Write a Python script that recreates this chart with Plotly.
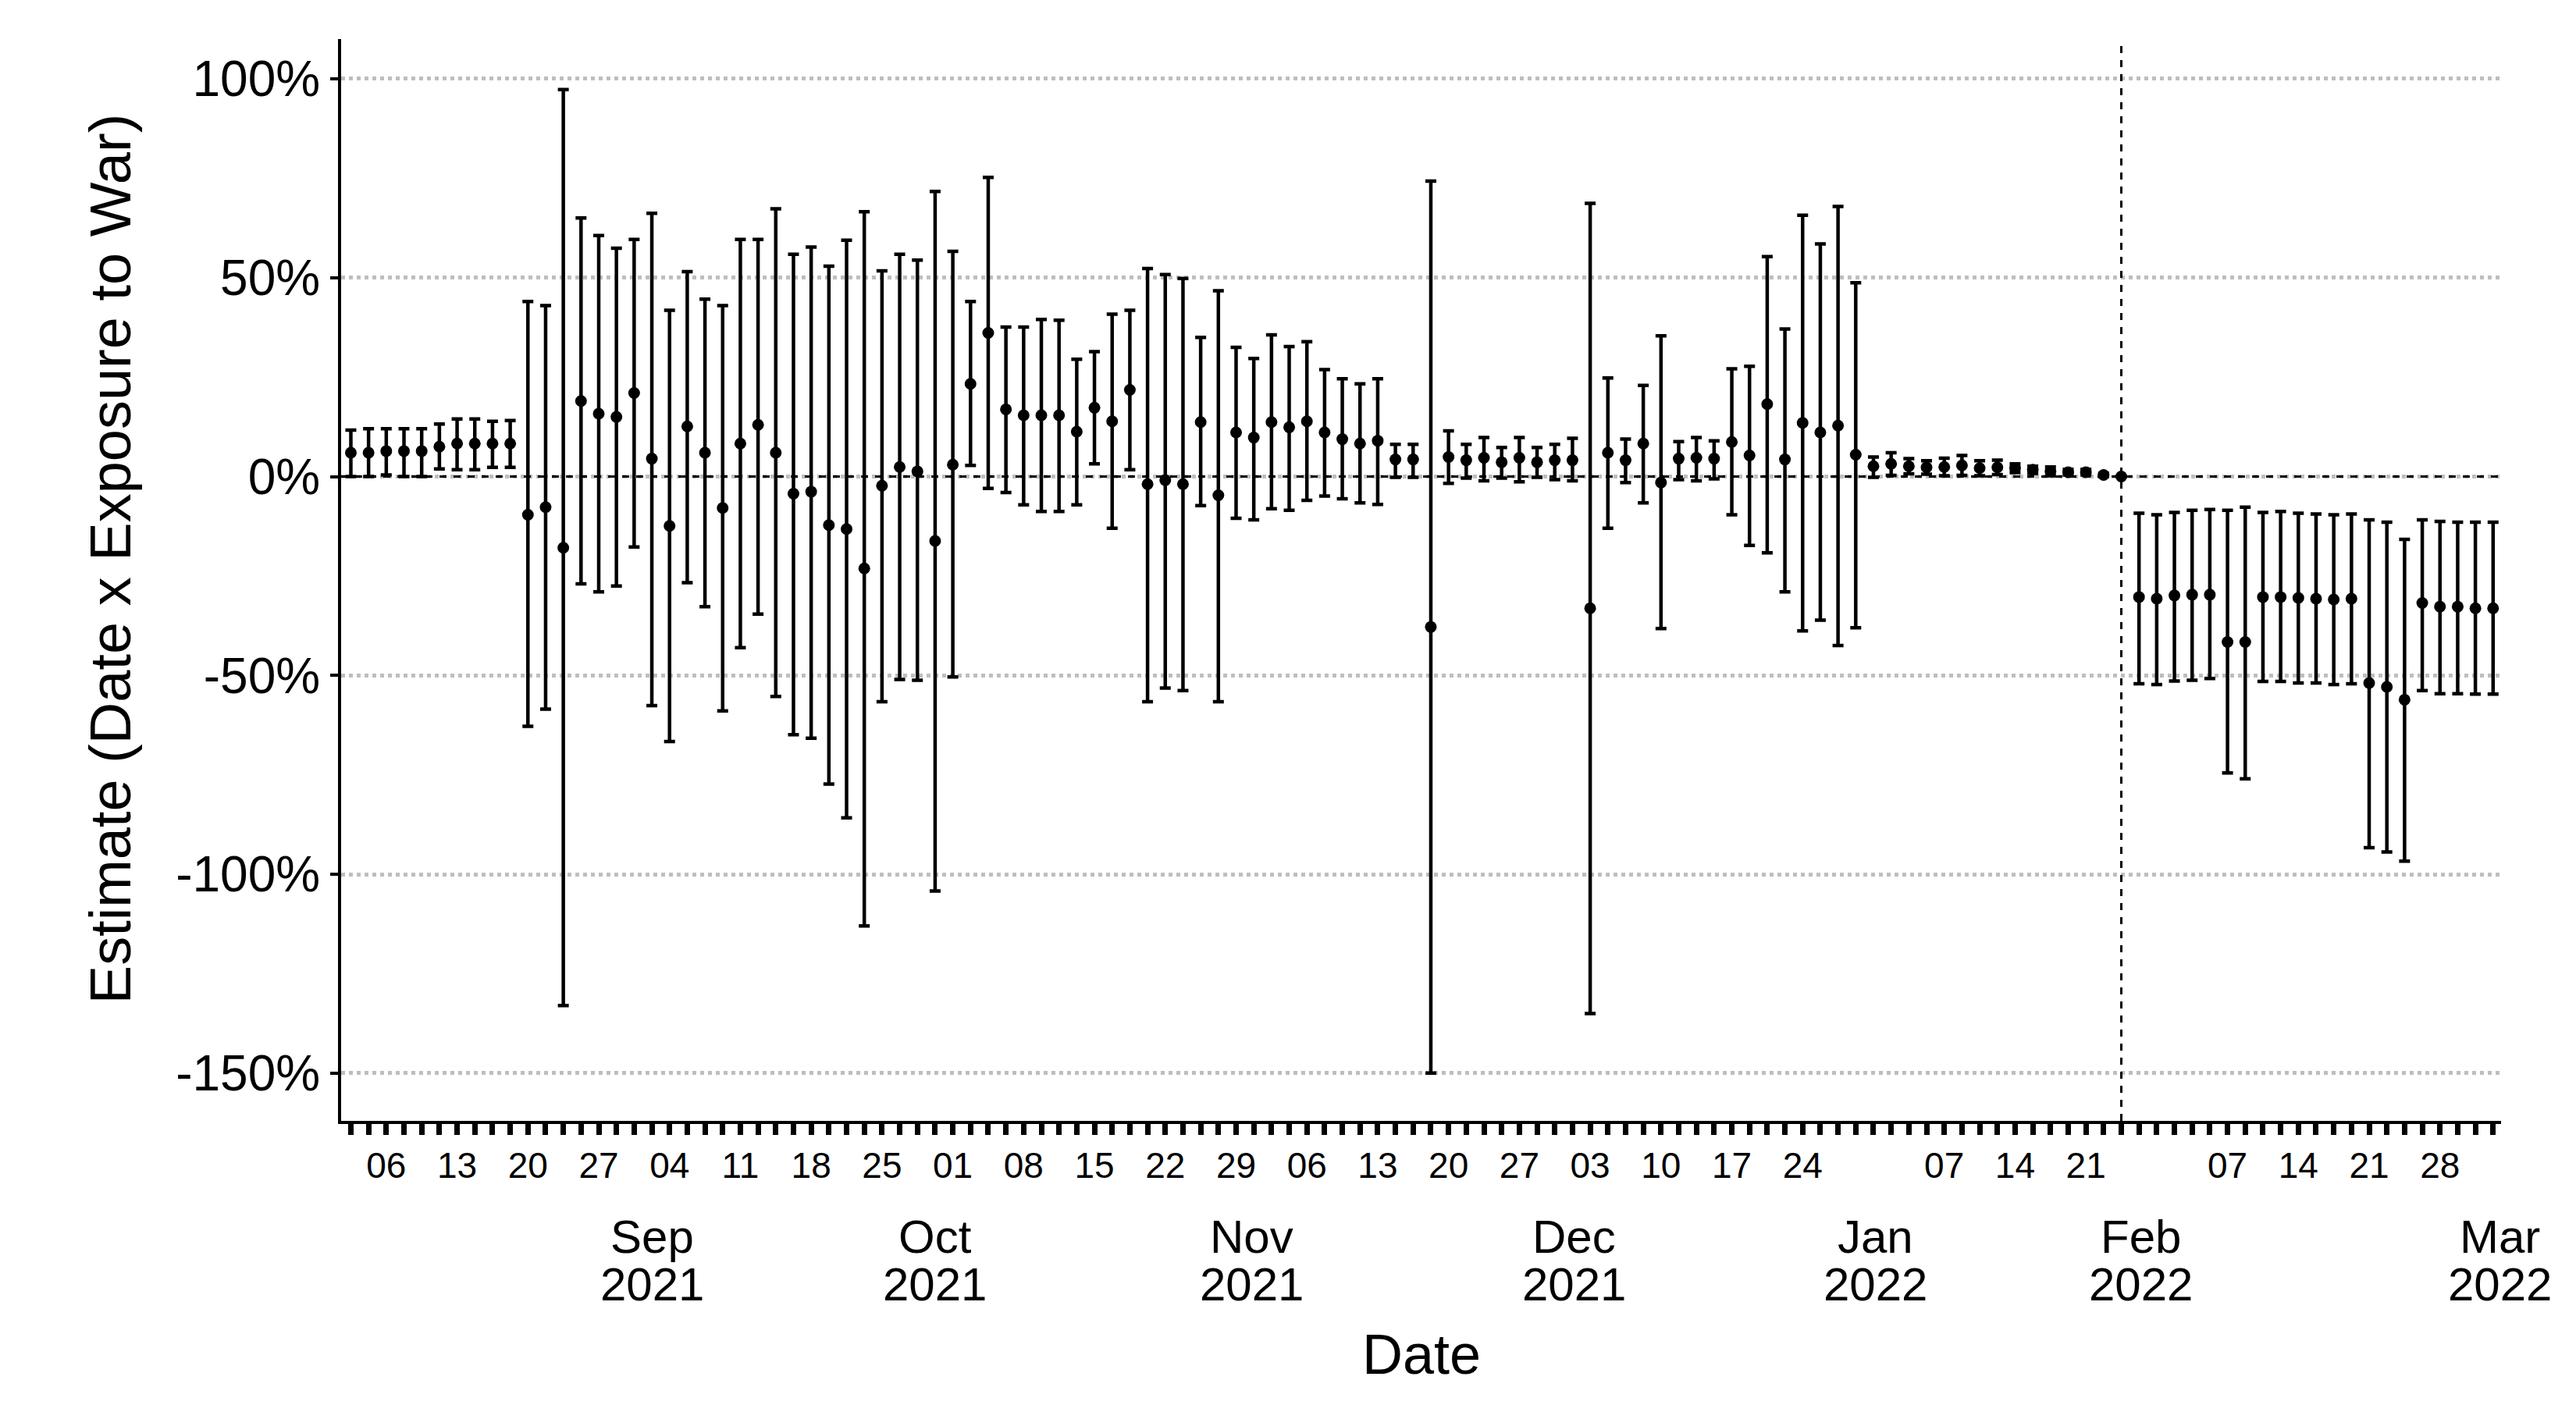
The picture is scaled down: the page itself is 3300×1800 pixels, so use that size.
import plotly.graph_objects as go

# estimates (in %) with 95% CI, one per survey date (index on a discrete axis)
est = [6.0, 6.0, 6.4, 6.4, 6.4, 7.5, 8.3, 8.3, 8.3, 8.3,
       -9.6, -7.7, -17.9, 19.0, 15.8, 15.0, 21.0, 4.5, -12.4, 12.6,
       6.0, -7.9, 8.3, 13.0, 6.0, -4.3, -3.8, -12.2, -13.2, -23.1,
       -2.3, 2.4, 1.3, -16.2, 3.0, 23.3, 36.1, 16.9, 15.4, 15.4,
       15.4, 11.3, 17.3, 13.9, 21.8, -1.9, -0.9, -1.9, 13.7, -4.7,
       11.1, 9.8, 13.7, 12.4, 13.9, 11.1, 9.4, 8.3, 9.0, 4.3,
       4.3, -37.8, 4.9, 4.1, 4.7, 3.6, 4.7, 3.6, 4.1, 4.1,
       -33.1, 6.0, 4.1, 8.3, -1.5, 4.5, 4.7, 4.5, 8.7, 5.3,
       18.2, 4.3, 13.5, 11.1, 12.8, 5.5, 2.6, 3.2, 2.6, 2.3,
       2.4, 2.8, 2.1, 2.3, 2.1, 1.7, 1.3, 1.1, 1.1, 0.4,
       0.0, -30.3, -30.7, -29.9, -29.7, -29.7, -41.6, -41.6, -30.3, -30.3,
       -30.5, -30.7, -30.9, -30.7, -51.9, -52.9, -56.1, -31.8, -32.7, -32.7,
       -33.1, -33.1]
upper = [11.7, 12.0, 12.0, 12.0, 12.0, 13.2, 14.5, 14.5, 13.9, 14.1,
         44.0, 43.0, 97.3, 65.0, 60.6, 57.4, 59.6, 66.2, 41.8, 51.5,
         44.6, 43.0, 59.6, 59.6, 67.3, 55.9, 57.7, 52.9, 59.4, 66.6,
         51.7, 55.9, 54.4, 71.7, 56.6, 44.0, 75.2, 37.6, 37.6, 39.5,
         39.3, 29.5, 31.4, 40.8, 41.8, 52.3, 50.8, 49.8, 35.0, 46.7,
         32.5, 29.7, 35.6, 32.7, 33.9, 26.9, 24.6, 23.3, 24.6, 8.1,
         8.1, 74.3, 11.5, 8.1, 9.8, 7.3, 9.8, 7.3, 8.1, 9.6,
         68.7, 24.8, 9.4, 22.9, 35.4, 8.8, 9.8, 9.0, 27.1, 27.7,
         55.3, 37.1, 65.7, 58.5, 67.9, 48.7, 4.9, 6.0, 4.5, 4.0,
         4.6, 5.3, 4.0, 4.1, 3.2, 2.6, 2.4, 1.8, 1.8, 0.8,
         0.0, -9.2, -9.6, -9.0, -8.5, -8.3, -8.5, -7.7, -9.0, -8.8,
         -9.2, -9.4, -9.6, -9.4, -10.9, -11.5, -15.8, -10.9, -11.3, -11.5,
         -11.5, -11.5]
lower = [0.0, 0.0, 0.4, 0.0, 0.0, 1.9, 1.7, 1.7, 2.3, 2.3,
         -62.8, -58.5, -133.0, -27.0, -29.0, -27.5, -17.7, -57.6, -66.6, -26.7,
         -32.7, -58.9, -43.0, -34.6, -55.3, -64.9, -65.8, -77.3, -85.8, -113.0,
         -56.6, -51.0, -51.2, -104.2, -50.4, 2.8, -3.0, -4.0, -7.1, -8.8,
         -8.8, -7.1, 3.2, -13.0, 1.7, -56.6, -53.2, -53.8, -7.3, -56.6,
         -10.5, -10.9, -8.1, -8.5, -6.0, -4.9, -5.6, -6.6, -7.0, -0.2,
         -0.2, -150.0, -1.7, -0.4, -1.1, -0.4, -1.3, -0.2, -0.8, -1.1,
         -135.0, -13.0, -1.5, -6.6, -38.2, -0.8, -1.1, -0.6, -9.6, -17.3,
         -19.2, -29.0, -38.8, -36.1, -42.5, -38.0, -0.2, 0.3, 0.7, 0.6,
         0.2, 0.3, 0.2, 0.5, 1.0, 0.8, 0.2, 0.4, 0.4, 0.0,
         0.0, -52.1, -52.3, -51.4, -51.2, -50.8, -74.5, -76.0, -51.5, -51.5,
         -51.9, -51.9, -52.3, -52.1, -93.3, -94.4, -96.7, -53.8, -54.6, -54.6,
         -54.7, -54.7]

day_tick_idx = [2, 6, 10, 14, 18, 22, 26, 30, 34, 38, 42, 46, 50, 54, 58, 62, 66, 70,
                74, 78, 82, 90, 94, 98, 106, 110, 114, 118]
day_tick_text = ["06", "13", "20", "27", "04", "11", "18", "25", "01", "08", "15", "22",
                 "29", "06", "13", "20", "27", "03", "10", "17", "24", "07", "14", "21",
                 "07", "14", "21", "28"]
month_idx = [17, 33, 50.9, 69.1, 86.1, 101.1, 121.4]
month_name = ["Sep", "Oct", "Nov", "Dec", "Jan", "Feb", "Mar"]
month_year = ["2021", "2021", "2021", "2021", "2022", "2022", "2022"]
war_idx = 100

x = list(range(len(est)))
labels = dict(zip(day_tick_idx, day_tick_text))

fig = go.Figure()
fig.add_hline(y=0, line=dict(color="black", width=3, dash="dash"))
fig.add_vline(x=war_idx, line=dict(color="black", width=3, dash="dash"))
fig.add_trace(go.Scatter(
    x=x, y=est, mode="markers",
    marker=dict(color="black", size=15),
    error_y=dict(type="data", symmetric=False,
                 array=[u - e for u, e in zip(upper, est)],
                 arrayminus=[e - l for e, l in zip(est, lower)],
                 color="black", thickness=4.5, width=7),
    showlegend=False))

font = "Liberation Sans, Arial, sans-serif"
for xi, m, yr in zip(month_idx, month_name, month_year):
    fig.add_annotation(x=xi, y=-0.1075, xref="x", yref="paper", text=m, showarrow=False,
                       xanchor="center", yanchor="middle",
                       font=dict(size=60, color="black", family=font))
    fig.add_annotation(x=xi, y=-0.1515, xref="x", yref="paper", text=yr, showarrow=False,
                       xanchor="center", yanchor="middle",
                       font=dict(size=60, color="black", family=font))
fig.add_annotation(x=0.5, y=-0.216, xref="paper", yref="paper", text="Date", showarrow=False,
                   xanchor="center", yanchor="middle",
                   font=dict(size=72, color="black", family=font))
fig.add_annotation(x=-0.107, y=0.52, xref="paper", yref="paper",
                   text="Estimate (Date x Exposure to War)", showarrow=False, textangle=-90,
                   xanchor="center", yanchor="middle",
                   font=dict(size=74, color="black", family=font))

fig.update_layout(
    width=3300, height=1800, plot_bgcolor="white", paper_bgcolor="white",
    margin=dict(l=429, r=104, t=42, b=372),
    font=dict(family=font, color="black"),
    xaxis=dict(range=[-0.55, 121.45], tickmode="array", tickvals=x,
               ticktext=[labels.get(i, "") for i in x],
               ticks="outside", ticklen=14, tickwidth=7, tickcolor="black",
               showline=True, linecolor="black", linewidth=4, showgrid=False,
               zeroline=False, tickfont=dict(size=46)),
    yaxis=dict(range=[-162, 110], tickvals=[-150, -100, -50, 0, 50, 100],
               ticktext=["-150%", "-100%", "-50%", "0%", "50%", "100%"],
               ticks="outside", ticklen=10, tickwidth=4, tickcolor="black",
               showline=True, linecolor="black", linewidth=4,
               showgrid=True, gridcolor="#bebebe", gridwidth=5, griddash="dot",
               zeroline=False, tickfont=dict(size=64)),
)

fig.write_html("out.html")
